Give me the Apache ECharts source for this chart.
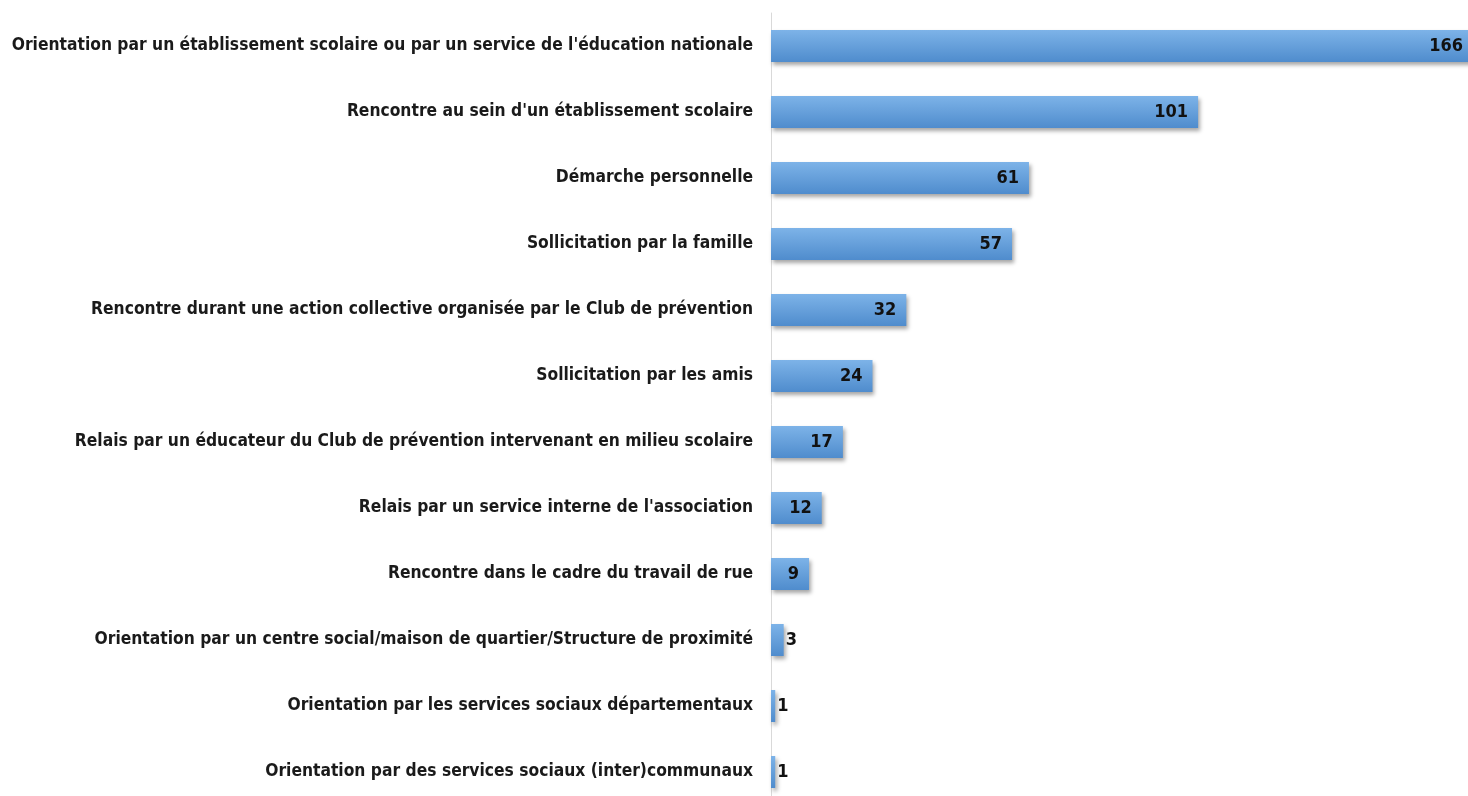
<!DOCTYPE html>
<html>
<head>
<meta charset="utf-8">
<script src="https://cdn.jsdelivr.net/npm/echarts@6/dist/echarts.min.js"></script>
<style>
  html, body { margin: 0; padding: 0; background: #fff; }
  #chart { width: 1468px; height: 796px; }
</style>
</head>
<body>
<div id="chart"></div>
<script>
var categories = [
  "Orientation par un établissement scolaire ou par un service de l'éducation nationale",
  "Rencontre au sein d'un établissement scolaire",
  "Démarche personnelle",
  "Sollicitation par la famille",
  "Rencontre durant une action collective organisée par le Club de prévention",
  "Sollicitation par les amis",
  "Relais par un éducateur du Club de prévention intervenant en milieu scolaire",
  "Relais par un service interne de l'association",
  "Rencontre dans le cadre du travail de rue",
  "Orientation par un centre social/maison de quartier/Structure de proximité",
  "Orientation par les services sociaux départementaux",
  "Orientation par des services sociaux (inter)communaux"
];
var values = [166, 101, 61, 57, 32, 24, 17, 12, 9, 3, 1, 1];

var font = "'Liberation Sans Narrow', 'DejaVu Sans Condensed', Roboto, sans-serif";
var chart = echarts.init(document.getElementById('chart'));

var data = values.map(function (v) {
  return {
    value: v,
    label: v < 5 ? { position: 'right', distance: 2 } : { position: 'insideRight', distance: 10 }
  };
});

var option = {
  animation: false,
  grid: { left: 771, right: -5, top: 13, bottom: -9, containLabel: false, outerBoundsMode: 'none' },
  xAxis: {
    type: 'value', min: 0, max: 166, show: false
  },
  yAxis: {
    type: 'category',
    inverse: true,
    data: categories,
    axisLine: { show: true, lineStyle: { color: '#d9d9d9', width: 1 } },
    axisTick: { show: false },
    axisLabel: {
      margin: 18,
      color: '#1a1a1a',
      fontFamily: font,
      fontWeight: 'bold',
      fontSize: 17.3
    }
  },
  series: [{
    type: 'bar',
    data: data,
    barWidth: 32,
    itemStyle: {
      color: new echarts.graphic.LinearGradient(0, 0, 0, 1, [
        { offset: 0, color: '#7db3e8' },
        { offset: 1, color: '#4f8ccd' }
      ]),
      shadowColor: 'rgba(0,0,0,0.35)',
      shadowBlur: 4,
      shadowOffsetX: 2,
      shadowOffsetY: 3
    },
    label: {
      show: true,
      color: '#111',
      fontFamily: font,
      fontWeight: 'bold',
      fontSize: 18
    }
  }]
};
chart.setOption(option);
</script>
</body>
</html>
